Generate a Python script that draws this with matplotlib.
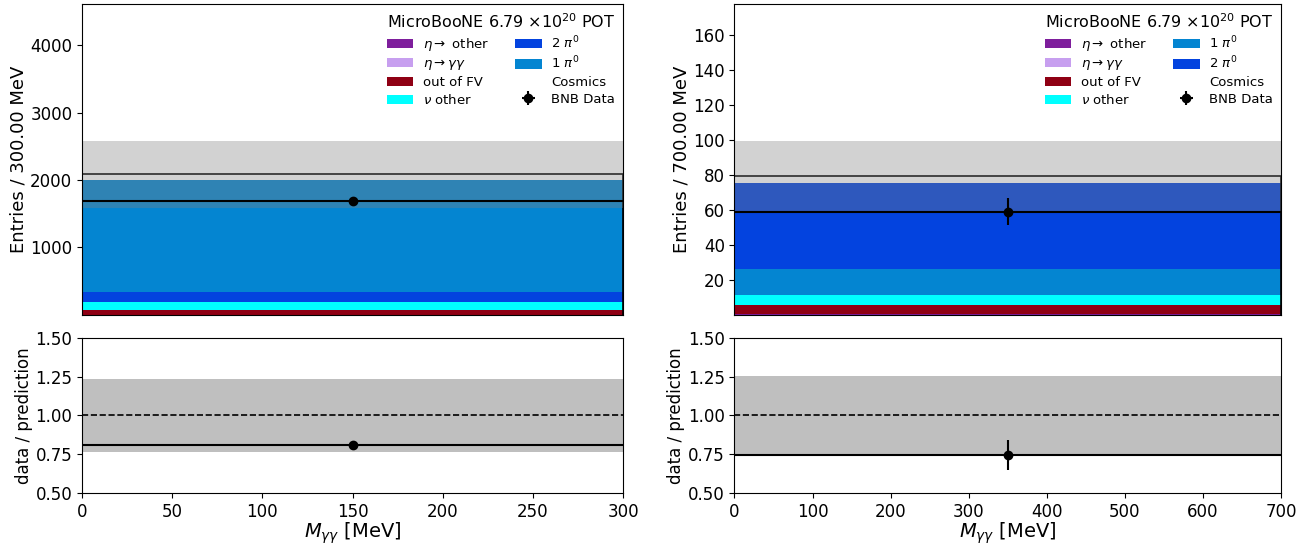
import numpy as np
import matplotlib
matplotlib.use("Agg")
import matplotlib.pyplot as plt
from matplotlib.patches import Patch

# one bin per panel
bin_edges_left = [0, 300]
bin_edges_right = [0, 700]

labels = ["$\\eta \\rightarrow$ other", "$\\eta \\rightarrow \\gamma\\gamma$", "out of FV",
          "$\\nu$ other", "2 $\\pi^0$", "1 $\\pi^0$", "Cosmics"]
colors = ["#7e1e9c", "#c79fef", "#8f0014", "#00ffff", "#0343df", "#0485d1", "white"]

# stack contents, same category order as labels
stack_left = [3, 2, 70, 115, 155, 1655, 86]
stack_right = [0.3, 0.4, 5.0, 5.7, 49.3, 14.7, 4.1]
# right panel stacks 1 pi0 below 2 pi0
order_left = [0, 1, 2, 3, 4, 5, 6]
order_right = [0, 1, 2, 3, 5, 4, 6]

syst_left = 494
syst_right = 20.3
data_left = 1690
data_right = 59

binw_labels = ["Entries / 300.00 MeV", "Entries / 700.00 MeV"]

fig = plt.figure(figsize=(13.13, 5.43), dpi=100)


def draw(xpos, width, edges, stack, order, syst, data, ylabel, yticks, ymax, xticks):
    ax = fig.add_axes([xpos, 0.42, width, 0.5727])
    rax = fig.add_axes([xpos, 0.092, width, 0.286])
    lo, hi = edges
    centre = (lo + hi) / 2
    half = (hi - lo) / 2
    bottom = 0
    handles = []
    for i in order:
        ax.bar(centre, stack[i], width=hi - lo, bottom=bottom, color=colors[i], linewidth=0)
        bottom += stack[i]
        handles.append(Patch(facecolor=colors[i], label=labels[i]))
    total = bottom
    ax.stairs([total], edges, color="black", linewidth=1.2)
    ax.bar(centre, 2 * syst, width=hi - lo, bottom=total - syst, color="gray", alpha=0.35, linewidth=0)
    eb = ax.errorbar(centre, data, xerr=half, yerr=np.sqrt(data), fmt="o", color="black",
                     markersize=6, elinewidth=1.5, label="BNB Data")
    ax.set_xlim(lo, hi)
    ax.set_ylim(0, ymax)
    ax.set_yticks(yticks)
    ax.tick_params(axis="x", bottom=False, labelbottom=False)
    ax.tick_params(axis="y", labelsize=12)
    ax.set_ylabel(ylabel, fontsize=13, labelpad=2)
    ax.legend(handles=handles + [eb], ncol=2, frameon=False, loc="upper right",
              fontsize=9.5, labelspacing=0.3, borderaxespad=0.2, handletextpad=0.7,
              title="MicroBooNE 6.79 $\\times 10^{20}$ POT", title_fontsize=11.5)

    ratio = data / total
    rax.fill_between(edges, [1 - syst / total] * 2, [1 + syst / total] * 2, color="gray", alpha=0.5, linewidth=0)
    rax.axhline(1.0, color="black", linestyle="--", linewidth=1.2)
    rax.errorbar(centre, ratio, xerr=half, yerr=np.sqrt(data) / total, fmt="o", color="black",
                 markersize=6, elinewidth=1.5)
    rax.set_xlim(lo, hi)
    rax.set_ylim(0.5, 1.5)
    rax.set_yticks([0.5, 0.75, 1.0, 1.25, 1.5])
    rax.set_xticks(xticks)
    rax.tick_params(labelsize=12)
    rax.set_ylabel("data / prediction", fontsize=12, labelpad=2)
    rax.set_xlabel("$M_{\\gamma\\gamma}$ [MeV]", fontsize=14, labelpad=0)


draw(0.0625, 0.412, bin_edges_left, stack_left, order_left, syst_left, data_left,
     binw_labels[0], [1000, 2000, 3000, 4000], 4610, np.arange(0, 301, 50))
draw(0.5594, 0.4162, bin_edges_right, stack_right, order_right, syst_right, data_right,
     binw_labels[1], np.arange(20, 161, 20), 178, np.arange(0, 701, 100))

fig.savefig("out.png", dpi=100)
